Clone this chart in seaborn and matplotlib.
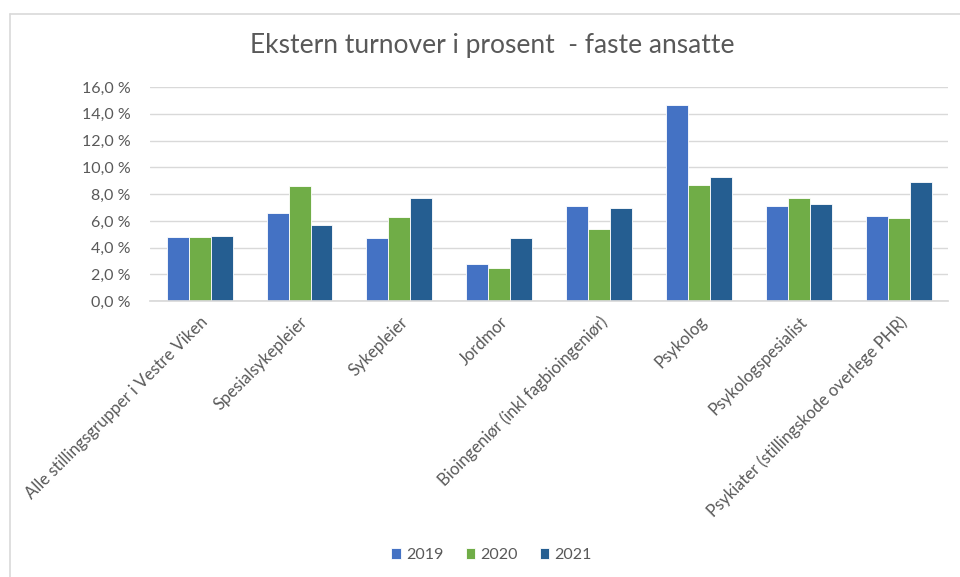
import matplotlib
matplotlib.use("Agg")
import matplotlib.pyplot as plt
import seaborn as sns
import pandas as pd
from matplotlib.lines import Line2D

categories = [
    "Alle stillingsgrupper i Vestre Viken",
    "Spesialsykepleier",
    "Sykepleier",
    "Jordmor",
    "Bioingeniør (inkl fagbioingeniør)",
    "Psykolog",
    "Psykologspesialist",
    "Psykiater (stillingskode overlege PHR)",
]
years = ["2019", "2020", "2021"]
v2019 = [4.8, 6.6, 4.7, 2.8, 7.1, 14.7, 7.1, 6.4]
v2020 = [4.8, 8.6, 6.3, 2.5, 5.4, 8.7, 7.7, 6.2]
v2021 = [4.9, 5.7, 7.7, 4.7, 7.0, 9.3, 7.3, 8.9]
yticks = [0, 2, 4, 6, 8, 10, 12, 14, 16]
colors = ["#4472C4", "#70AD47", "#255E91"]

rows = []
for yr, vals in zip(years, [v2019, v2020, v2021]):
    for c, v in zip(categories, vals):
        rows.append({"Kategori": c, "År": yr, "Verdi": v})
df = pd.DataFrame(rows)

sns.set_theme(style="white")
plt.rcParams["font.family"] = ["Lato", "DejaVu Sans"]
txt = "#595959"

fig = plt.figure(figsize=(9.6, 5.77), dpi=100)
ax = fig.add_axes([0.156, 0.478, 0.832, 0.371])
sns.barplot(data=df, x="Kategori", y="Verdi", hue="År", order=categories,
            hue_order=years, palette=colors, width=0.66, ax=ax,
            edgecolor="white", linewidth=0.6, saturation=1)

ax.set_ylim(0, 16)
ax.set_xlim(-0.5, len(categories) - 0.5)
ax.set_yticks(yticks)
ax.set_yticklabels([f"{t:.1f}".replace(".", ",") + " %" for t in yticks],
                   fontsize=11.5, color=txt)
ax.yaxis.grid(True, color="#D9D9D9", linewidth=1)
ax.set_axisbelow(True)
ax.set_xlabel("")
ax.set_ylabel("")
for s in ["top", "right", "left"]:
    ax.spines[s].set_visible(False)
ax.spines["bottom"].set_color("#D9D9D9")
ax.tick_params(axis="both", length=0)
ax.tick_params(axis="y", pad=14)
ax.set_xticks(range(len(categories)))
ax.set_xticklabels(categories, rotation=45, ha="right", rotation_mode="anchor",
                   fontsize=12, color=txt)
ax.tick_params(axis="x", pad=9)

fig.text(0.513, 0.921, "Ekstern turnover i prosent  - faste ansatte",
         ha="center", va="center", fontsize=19, color=txt)

ax.legend_.remove()
handles, labels = ax.get_legend_handles_labels()
fig.legend(handles[:3], years, loc="center", bbox_to_anchor=(0.512, 0.038),
           ncol=3, frameon=False, fontsize=11.5, labelcolor=txt,
           handlelength=0.6, handleheight=0.6, handletextpad=0.3,
           columnspacing=1.4)

fig.lines.append(Line2D([9.5 / 960, 1.0], [1 - 13.5 / 577] * 2,
                        transform=fig.transFigure, color="#D9D9D9", linewidth=1.2))
fig.lines.append(Line2D([9.5 / 960] * 2, [0.0, 1 - 13.5 / 577],
                        transform=fig.transFigure, color="#D9D9D9", linewidth=1.2))

fig.savefig("out.png", dpi=100)
